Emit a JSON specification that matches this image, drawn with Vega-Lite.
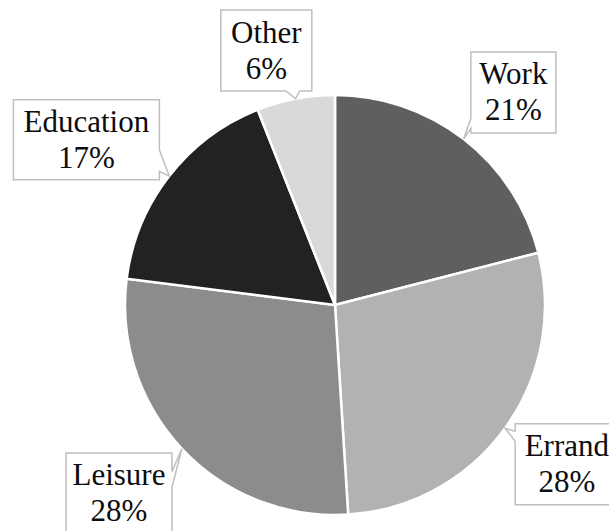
{
  "$schema": "https://vega.github.io/schema/vega-lite/v6.json",
  "width": 548,
  "height": 452,
  "autosize": {"type": "none"},
  "padding": {"left": 61, "top": 79, "right": 0, "bottom": 0},
  "background": "white",
  "config": {"view": {"stroke": null}},
  "data": {
    "values": [
      {"category": "Work", "pct": 21},
      {"category": "Errand", "pct": 28},
      {"category": "Leisure", "pct": 28},
      {"category": "Education", "pct": 17},
      {"category": "Other", "pct": 6}
    ]
  },
  "transform": [
    {"window": [{"op": "row_number", "as": "idx"}, {"op": "sum", "field": "pct", "as": "cum"}], "frame": [null, 0]},
    {"joinaggregate": [{"op": "sum", "field": "pct", "as": "total"}]},
    {"calculate": "2*PI*(datum.cum - datum.pct/2)/datum.total", "as": "mid"},
    {"calculate": "datum.mid + (datum.category==='Work' ? 2.2 : datum.category==='Errand' ? -1.5 : datum.category==='Leisure' ? 2.1 : datum.category==='Education' ? -4.2 : -4.3)*PI/180", "as": "la"},
    {"calculate": "datum.category==='Work' ? 277.5 : datum.category==='Errand' ? 281.3 : datum.category==='Leisure' ? 286.7 : datum.category==='Education' ? 298.5 : 263.6", "as": "lr"},
    {"calculate": "datum.lr*sin(datum.la)", "as": "lx"},
    {"calculate": "datum.lr*cos(datum.la)", "as": "ly"},
    {"calculate": "datum.category + '\\n' + datum.pct + '%'", "as": "label"}
  ],
  "layer": [
    {
      "mark": {"type": "arc", "outerRadius": 210, "stroke": "white", "strokeWidth": 2.5},
      "encoding": {
        "theta": {"field": "pct", "type": "quantitative", "stack": true},
        "order": {"field": "idx", "type": "quantitative"},
        "color": {
          "field": "category",
          "type": "nominal",
          "scale": {
            "domain": ["Work", "Errand", "Leisure", "Education", "Other"],
            "range": ["#5f5f5f", "#b2b2b2", "#8c8c8c", "#222222", "#d9d9d9"]
          },
          "legend": null
        }
      }
    },
    {
      "mark": {"type": "point", "filled": true, "size": 4, "fill": "white", "stroke": "#bfbfbf", "strokeWidth": 1.5, "opacity": 1},
      "encoding": {
        "x": {"field": "lx", "type": "quantitative", "scale": {"domain": [-274, 274], "nice": false, "zero": false}, "axis": null},
        "y": {"field": "ly", "type": "quantitative", "scale": {"domain": [-226, 226], "nice": false, "zero": false}, "axis": null},
        "shape": {
          "field": "category",
          "type": "nominal",
          "scale": {
            "domain": ["Work", "Errand", "Leisure", "Education", "Other"],
            "range": [
              "M-42.5,-40.5H42.5V40.5H-42.5V36L-49.8,46.6L-42.5,26Z",
              "M-51.7,-40.5H51.7V40.5H-51.7V-23L-61.8,-36.1L-51.7,-33Z",
              "M-53,-40.5H53V-22L62.9,-44.7L53,-6V40.5H-53Z",
              "M-73,-40H73V10L82.8,36.3L73,31.7V40H-73Z",
              "M-45.5,-40.5H45.5V40.5H33.5L29.2,48.2L19.5,40.5H-45.5Z"
            ]
          },
          "legend": null
        }
      }
    },
    {
      "mark": {"type": "text", "font": "Liberation Serif", "fontSize": 31, "lineHeight": 36, "lineBreak": "\n", "align": "center", "baseline": "middle", "dy": -17, "color": "#0d0d0d"},
      "encoding": {
        "x": {"field": "lx", "type": "quantitative"},
        "y": {"field": "ly", "type": "quantitative"},
        "text": {"field": "label", "type": "nominal"}
      }
    }
  ]
}
